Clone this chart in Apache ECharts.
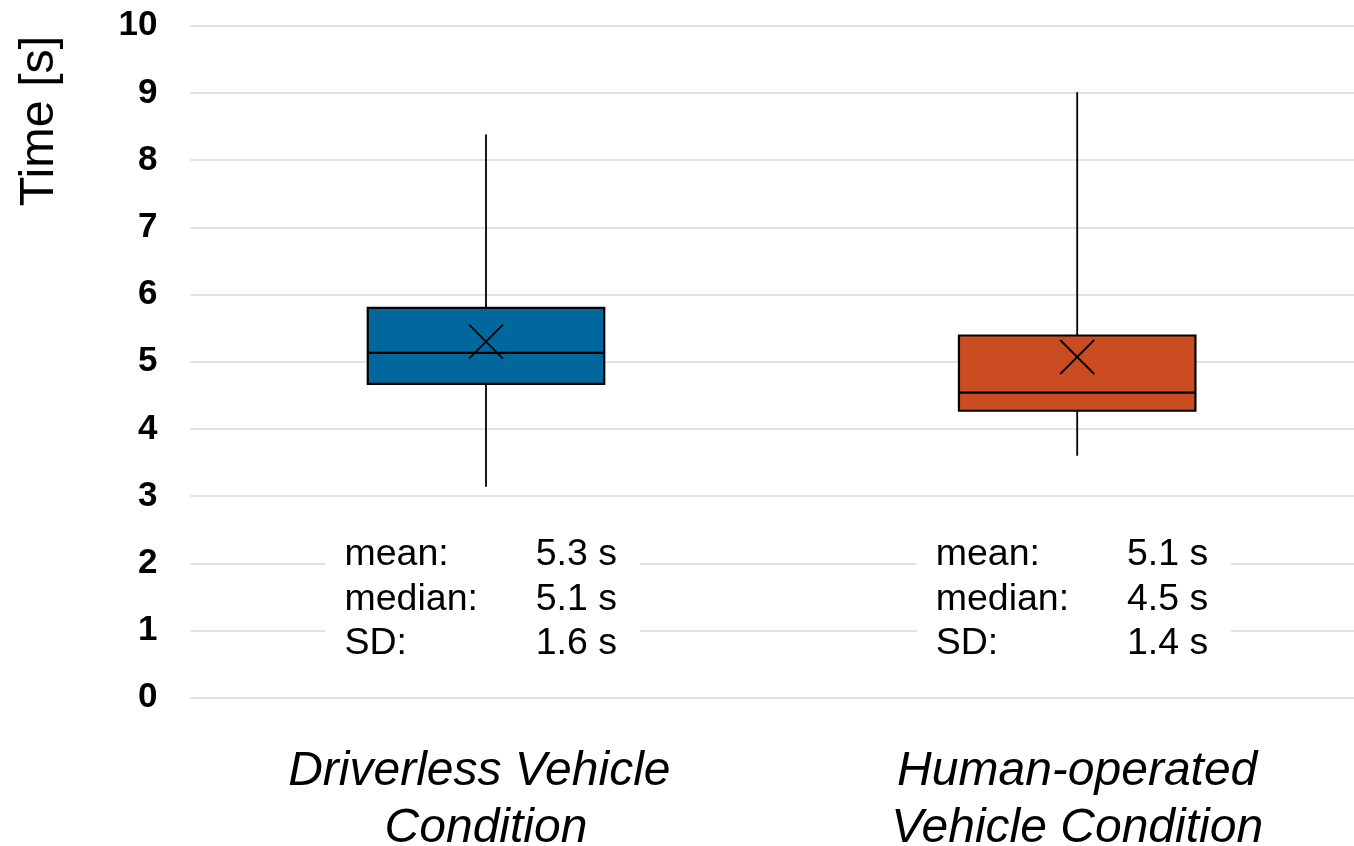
<!DOCTYPE html>
<html><head><meta charset="utf-8">
<script src="https://cdn.jsdelivr.net/npm/echarts@6/dist/echarts.min.js"></script>
<style>html,body{margin:0;padding:0;background:#fff}#c{width:1354px;height:846px}</style>
</head><body><div id="c"></div>
<script>
// ---- data ----
const categories = ['Driverless Vehicle \nCondition', 'Human-operated\nVehicle Condition'];
const whiskerLow = [3.14, 3.60];
const q1Vals = [4.67, 4.27];
const medianVals = [5.13, 4.54];
const q3Vals = [5.80, 5.39];
const whiskerHigh = [8.38, 9.01];
const meanVals = [5.30, 5.07];
const statLabels = ['mean:', 'median:', 'SD:'];
const statMean = ['5.3 s', '5.1 s'];
const statMedian = ['5.1 s', '4.5 s'];
const statSD = ['1.6 s', '1.4 s'];
const yAxisName = 'Time [s]';

// ---- styles ----
const boxColors = ['#02679C', '#CC4C22'];
const FONT = '"Liberation Sans", Arial, Helvetica, sans-serif';

const chart = echarts.init(document.getElementById('c'), null, {renderer: 'canvas'});

function renderBox(params, api) {
  const i = api.value(0);
  const band = api.size([1, 0])[0];
  const w = band * 0.4;
  const cx = api.coord([i, 0])[0];
  const yLow = api.coord([i, api.value(1)])[1];
  const yQ1 = api.coord([i, api.value(2)])[1];
  const yMed = api.coord([i, api.value(3)])[1];
  const yQ3 = api.coord([i, api.value(4)])[1];
  const yHigh = api.coord([i, api.value(5)])[1];
  const yMean = api.coord([i, api.value(6)])[1];
  const ls = {stroke: '#000', lineWidth: 1.8};
  const h = 17;
  return {
    type: 'group',
    children: [
      {type: 'line', shape: {x1: cx, y1: yHigh, x2: cx, y2: yQ3}, style: ls},
      {type: 'line', shape: {x1: cx, y1: yQ1, x2: cx, y2: yLow}, style: ls},
      {type: 'rect', shape: {x: cx - w / 2, y: yQ3, width: w, height: yQ1 - yQ3},
        style: {fill: boxColors[i], stroke: '#000', lineWidth: 2.2}},
      {type: 'line', shape: {x1: cx - w / 2, y1: yMed, x2: cx + w / 2, y2: yMed},
        style: {stroke: '#000', lineWidth: 2.2}},
      {type: 'line', shape: {x1: cx - h, y1: yMean - h, x2: cx + h, y2: yMean + h}, style: ls},
      {type: 'line', shape: {x1: cx - h, y1: yMean + h, x2: cx + h, y2: yMean - h}, style: ls}
    ]
  };
}

function renderStats(params, api) {
  const i = api.value(0);
  const p = api.coord([i, 0]);
  const cx = p[0], y0 = p[1];
  const vals = [statMean[i], statMedian[i], statSD[i]];
  const rows = [-143, -98, -54];
  const children = [
    {type: 'rect', shape: {x: cx - 160.5, y: y0 - 172, width: 314.5, height: 143},
      style: {fill: '#fff'}}
  ];
  rows.forEach((dy, r) => {
    children.push({type: 'text', style: {text: statLabels[r], x: cx - 141.5, y: y0 + dy,
      font: '37.5px ' + FONT, fill: '#000', align: 'left', verticalAlign: 'middle'}});
    children.push({type: 'text', style: {text: vals[r], x: cx + 131, y: y0 + dy,
      font: '37.5px ' + FONT, fill: '#000', align: 'right', verticalAlign: 'middle'}});
  });
  return {type: 'group', children};
}

chart.setOption({
  animation: false,
  backgroundColor: '#fff',
  grid: {left: 190.4, right: -18.8, top: 25.7, bottom: 148.3, containLabel: false, outerBoundsMode: 'none'},
  xAxis: {
    type: 'category',
    data: categories,
    axisLine: {show: false},
    axisTick: {show: false},
    splitLine: {show: false},
    axisLabel: {
      interval: 0,
      margin: 45,
      color: '#000',
      fontFamily: FONT,
      fontSize: 48,
      fontStyle: 'italic',
      lineHeight: 57
    }
  },
  yAxis: {
    type: 'value',
    min: 0, max: 10, interval: 1,
    axisLine: {show: false},
    axisTick: {show: false},
    axisLabel: {margin: 33, color: '#000', fontFamily: FONT, fontSize: 35, fontWeight: 'bold'},
    splitLine: {lineStyle: {color: '#d9d9d9', width: 1.5}}
  },
  graphic: [{
    type: 'text',
    x: 40, y: 121,
    rotation: Math.PI / 2,
    style: {text: yAxisName, font: '48.5px ' + FONT, fill: '#000', align: 'center', verticalAlign: 'middle'}
  }],
  series: [
    {
      type: 'custom',
      silent: true,
      renderItem: renderStats,
      data: categories.map((c, i) => [i, 0]),
      encode: {x: 0, y: 1},
      z: 2
    },
    {
      type: 'custom',
      silent: true,
      renderItem: renderBox,
      data: categories.map((c, i) => [i, whiskerLow[i], q1Vals[i], medianVals[i], q3Vals[i], whiskerHigh[i], meanVals[i]]),
      encode: {x: 0, y: [1, 2, 3, 4, 5, 6]},
      z: 3
    }
  ]
});
</script>
</body></html>
